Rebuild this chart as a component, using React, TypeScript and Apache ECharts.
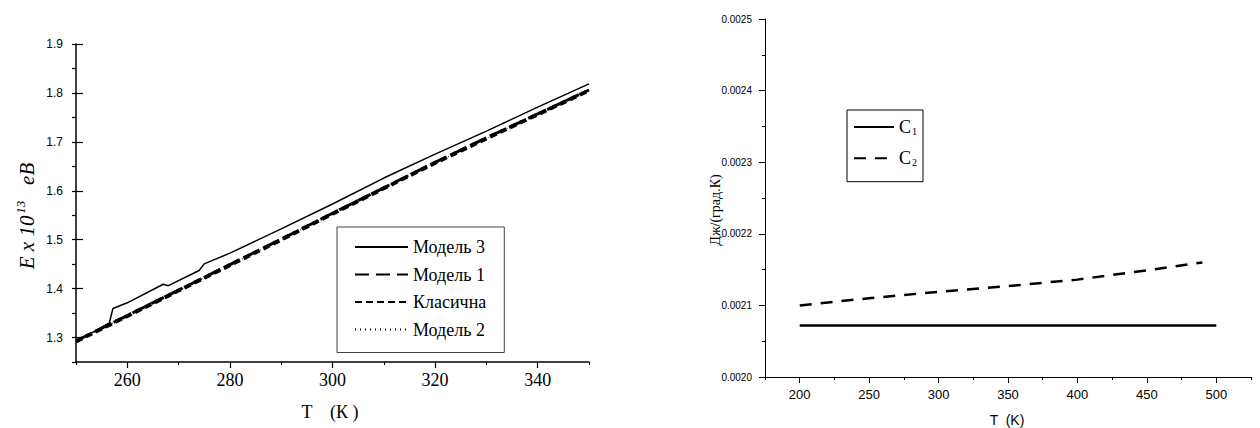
import React, { useEffect, useRef } from "react";
import * as echarts from "echarts";

// Left chart: energy vs temperature
const model3T = [250, 256.5, 257.2, 260, 267, 268, 274, 275, 280, 290, 300, 310, 320, 330, 340, 350];
const model3 = [1.291, 1.33, 1.3595, 1.371, 1.409, 1.406, 1.437, 1.4505, 1.4725, 1.522, 1.573, 1.626, 1.675, 1.722, 1.771, 1.8185];
const lowerT = [250, 260, 270, 280, 290, 300, 310, 320, 330, 340, 350];
const model1 = [1.293, 1.345, 1.397, 1.449, 1.501, 1.554, 1.606, 1.658, 1.708, 1.757, 1.806];
const classic = [1.292, 1.344, 1.396, 1.448, 1.5, 1.553, 1.605, 1.657, 1.707, 1.756, 1.805];
const model2 = [1.293, 1.344, 1.396, 1.448, 1.5, 1.553, 1.606, 1.657, 1.707, 1.757, 1.806];
const leftXTicks = [260, 280, 300, 320, 340];
const leftYTicks = [1.3, 1.4, 1.5, 1.6, 1.7, 1.8, 1.9];
const leftNames = ["Модель 3", "Модель 1", "Класична", "Модель 2"];

// Right chart: heat capacity vs temperature
const c1T = [200, 500];
const c1 = [0.002072, 0.002072];
const c2T = [200, 250, 300, 350, 400, 450, 490];
const c2 = [0.0021, 0.00211, 0.002119, 0.002127, 0.002136, 0.002149, 0.00216];
const rightXTicks = [200, 250, 300, 350, 400, 450, 500];

const SERIF = "'Liberation Serif', 'Times New Roman', serif";
const SANS = "'Liberation Sans', Arial, sans-serif";
const CLEAR = "rgba(0,0,0,0)";

const zip = (xs: number[], ys: number[]) => xs.map((x, i) => [x, ys[i]]);

export default function App() {
  const ref = useRef<HTMLDivElement>(null);
  useEffect(() => {
    if (!ref.current) return;
    const chart = echarts.init(ref.current, undefined, { renderer: "svg" });
    const axisLine = (w: number) => ({ show: true, lineStyle: { color: "#000", width: w } });
    const lineSeries = (name: string, xs: number[], ys: number[], xi: number, yi: number, width: number, type: any) => ({
      name, type: "line", xAxisIndex: xi, yAxisIndex: yi, symbol: "none",
      data: zip(xs, ys),
      lineStyle: { color: "#000", width, type },
      itemStyle: { color: CLEAR, borderWidth: 0 },
    });
    const option: any = {
      animation: false,
      backgroundColor: "#fff",
      grid: [
        { left: 76, top: 44, width: 513, height: 318 },
        { left: 765, top: 19, width: 486, height: 358 },
      ],
      xAxis: [
        {
          gridIndex: 0, type: "value", position: "bottom", min: 250, max: 350, interval: 10,
          axisLine: axisLine(1.5), axisTick: { length: 3, lineStyle: { color: "#000", width: 1 } },
          axisLabel: { show: false }, splitLine: { show: false },
        },
        {
          gridIndex: 0, type: "value", position: "bottom", min: 250, max: 350,
          axisLine: { show: false },
          axisTick: { show: true, customValues: leftXTicks, length: 6, lineStyle: { color: "#000", width: 1.2 } },
          axisLabel: { customValues: leftXTicks, margin: 9, color: "#000", fontFamily: SERIF, fontSize: 18 },
          splitLine: { show: false },
        },
        {
          gridIndex: 1, type: "value", position: "bottom", min: 175, max: 525, interval: 25,
          axisLine: axisLine(1), axisTick: { length: 3, lineStyle: { color: "#000", width: 1 } },
          axisLabel: { show: false }, splitLine: { show: false },
        },
        {
          gridIndex: 1, type: "value", position: "bottom", min: 175, max: 525,
          axisLine: { show: false },
          axisTick: { show: true, customValues: rightXTicks, length: 6, lineStyle: { color: "#000", width: 1 } },
          axisLabel: { customValues: rightXTicks, margin: 11, color: "#000", fontFamily: SANS, fontSize: 13 },
          splitLine: { show: false },
        },
      ],
      yAxis: [
        {
          gridIndex: 0, type: "value", position: "left", min: 1.25, max: 1.9, interval: 0.05,
          axisLine: axisLine(1.5), axisTick: { length: 4, lineStyle: { color: "#000", width: 1.2 } },
          axisLabel: { show: false }, splitLine: { show: false },
        },
        {
          gridIndex: 0, type: "value", position: "left", min: 1.25, max: 1.9,
          axisLine: { show: false },
          axisTick: { show: true, inside: true, customValues: leftYTicks, length: 7, lineStyle: { color: "#000", width: 1.2 } },
          axisLabel: {
            customValues: leftYTicks, margin: 13, color: "#000", fontFamily: SANS, fontSize: 12,
            formatter: (v: number) => v.toFixed(1),
          },
          splitLine: { show: false },
        },
        {
          gridIndex: 1, type: "value", position: "left", min: 0.002, max: 0.0025, interval: 0.0001,
          axisLine: axisLine(1),
          axisTick: { length: 6, lineStyle: { color: "#000", width: 1 } },
          minorTick: { show: true, splitNumber: 2, length: 3, lineStyle: { color: "#000", width: 1 } },
          axisLabel: {
            margin: 13, color: "#000", fontFamily: SANS, fontSize: 10,
            formatter: (v: number) => v.toFixed(4),
          },
          splitLine: { show: false },
        },
      ],
      legend: [
        {
          data: leftNames,
          orient: "vertical",
          left: 337, top: 227,
          itemWidth: 53, itemHeight: 14, itemGap: 9.5,
          padding: [11, 18, 14, 17],
          borderColor: "#444", borderWidth: 1,
          itemStyle: { color: CLEAR, borderWidth: 0 },
          textStyle: { fontFamily: SERIF, fontSize: 18, color: "#000" },
        },
        {
          data: ["C1", "C2"],
          orient: "vertical",
          left: 847, top: 110,
          itemWidth: 40, itemHeight: 14, itemGap: 12.7,
          padding: [8, 6, 14, 6],
          borderColor: "#000", borderWidth: 1,
          itemStyle: { color: CLEAR, borderWidth: 0 },
          formatter: (name: string) => `{c|C}{s|${name.slice(1)}}`,
          textStyle: {
            color: "#000",
            rich: {
              c: { fontFamily: SERIF, fontSize: 18, color: "#000" },
              s: { fontFamily: SERIF, fontSize: 10, color: "#000", padding: [9, 0, 0, 1] },
            },
          },
        },
      ],
      series: [
        lineSeries("Модель 3", model3T, model3, 0, 0, 1.5, "solid"),
        lineSeries("Модель 1", lowerT, model1, 0, 0, 3, [14, 7]),
        lineSeries("Класична", lowerT, classic, 0, 0, 4, [7, 4]),
        lineSeries("Модель 2", lowerT, model2, 0, 0, 1, [1, 4]),
        lineSeries("C1", c1T, c1, 2, 2, 2.5, "solid"),
        lineSeries("C2", c2T, c2, 2, 2, 2.5, [12, 9]),
      ],
      graphic: [
        {
          type: "text", x: 27, y: 216, rotation: Math.PI / 2,
          style: {
            text: "{i|E x 10}{s|13}{i|   eB}",
            align: "center", verticalAlign: "middle",
            rich: {
              i: { fontFamily: SERIF, fontStyle: "italic", fontSize: 21, fill: "#000", lineHeight: 26 },
              s: { fontFamily: SERIF, fontStyle: "italic", fontSize: 13, fill: "#000", padding: [0, 0, 14, 2] },
            },
          },
        },
        {
          type: "text", x: 330, y: 412,
          style: { text: "T    (К )", align: "center", verticalAlign: "middle", fontFamily: SERIF, fontSize: 18, fill: "#000" },
        },
        {
          type: "text", x: 715, y: 210, rotation: Math.PI / 2,
          style: { text: "Дж/(град.К)", align: "center", verticalAlign: "middle", fontFamily: SERIF, fontSize: 14, fill: "#000" },
        },
        {
          type: "text", x: 1007, y: 420,
          style: { text: "T  (K)", align: "center", verticalAlign: "middle", fontFamily: SANS, fontSize: 14, fill: "#000" },
        },
      ],
    };
    chart.setOption(option);
    return () => chart.dispose();
  }, []);
  return <div ref={ref} style={{ position: "absolute", left: 0, top: 0, width: 1260, height: 428 }} />;
}
